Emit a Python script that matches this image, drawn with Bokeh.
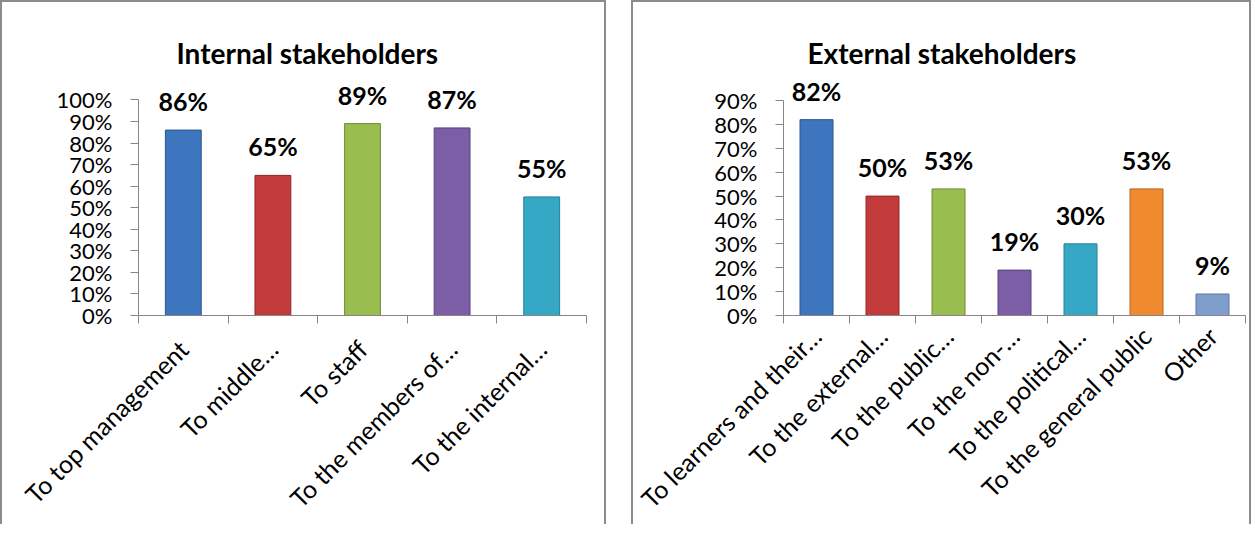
import math
from bokeh.plotting import figure
from bokeh.models import Range1d, FixedTicker, ColumnDataSource, LabelSet, PrintfTickFormatter
from bokeh.layouts import row
from bokeh.core.properties import value
from bokeh.embed import file_html
from bokeh.resources import INLINE

# ---------------- data ----------------
internal_title = "Internal stakeholders"
internal_categories = ["To top management", "To middle…", "To staff", "To the members of…", "To the internal…"]
internal_values = [86, 65, 89, 87, 55]
internal_yticks = [0, 10, 20, 30, 40, 50, 60, 70, 80, 90, 100]

external_title = "External stakeholders"
external_categories = ["To learners and their…", "To the external…", "To the public…", "To the non-…",
                       "To the political…", "To the general public", "Other"]
external_values = [82, 50, 53, 19, 30, 53, 9]
external_yticks = [0, 10, 20, 30, 40, 50, 60, 70, 80, 90]

# ---------------- styles ----------------
internal_fill = ["#3d75bf", "#c23a3a", "#99bd4f", "#7b5ea5", "#35a8c6"]
internal_line = ["#2b5690", "#8e2828", "#708c38", "#56417a", "#23809a"]
external_fill = ["#3d75bf", "#c23a3a", "#99bd4f", "#7b5ea5", "#35a8c6", "#f08a2e", "#809ecb"]
external_line = ["#2b5690", "#8e2828", "#708c38", "#56417a", "#23809a", "#b8631c", "#5a77a3"]

FONT = "Lato"
AXIS_COLOR = "#868686"
BORDER = "2px solid #8c8c8c"
CANVAS_H = 524


def make_panel(title, cats, vals, yticks, fills, lines, width, axis_top, range_top,
               b_left, b_right, b_bottom, title_offset, bar_w, cat_standoff):
    n = len(cats)
    xs = [i + 0.5 for i in range(n)]
    src = ColumnDataSource(dict(x=xs, top=vals, fill=fills, line=lines,
                                label=[f"{v}%" for v in vals]))
    p = figure(width=width, height=CANVAS_H, x_range=Range1d(0, n), y_range=Range1d(0, range_top),
               toolbar_location=None, output_backend="svg",
               min_border_left=b_left, min_border_right=b_right,
               min_border_top=67, min_border_bottom=b_bottom,
               title=title)
    p.styles = {"border-top": BORDER, "border-left": BORDER, "border-right": BORDER}
    p.outline_line_color = None
    p.xgrid.visible = False
    p.ygrid.visible = False

    p.title.text_font = FONT
    p.title.text_font_size = "28px"
    p.title.text_font_style = "bold"
    p.title.text_color = "black"
    p.title.align = "left"
    p.title.offset = title_offset
    p.title.standoff = 0

    p.vbar(x="x", top="top", bottom=0, width=bar_w, fill_color="fill",
           line_color="line", line_width=1, source=src)

    labels = LabelSet(x="x", y="top", text="label", source=src, y_offset=19,
                      text_align="center", text_baseline="alphabetic",
                      text_font=value(FONT), text_font_style="bold",
                      text_font_size="25px", text_color="black")
    p.add_layout(labels)

    xa = p.xaxis[0]
    xa.ticker = FixedTicker(ticks=xs, minor_ticks=list(range(n + 1)))
    xa.major_label_overrides = {x: c for x, c in zip(xs, cats)}
    xa.major_label_orientation = math.pi / 4
    xa.major_tick_out = 0
    xa.major_tick_in = 0
    xa.minor_tick_out = 8
    xa.minor_tick_in = 0
    xa.minor_tick_line_color = AXIS_COLOR
    xa.axis_line_color = AXIS_COLOR
    xa.major_label_text_font = FONT
    xa.major_label_text_font_size = "25px"
    xa.major_label_text_color = "black"
    xa.major_label_standoff = cat_standoff

    ya = p.yaxis[0]
    ya.ticker = FixedTicker(ticks=yticks)
    ya.bounds = (0, axis_top)
    ya.formatter = PrintfTickFormatter(format="%d%%")
    ya.major_tick_out = 8
    ya.major_tick_in = 0
    ya.minor_tick_line_color = None
    ya.major_tick_line_color = AXIS_COLOR
    ya.axis_line_color = AXIS_COLOR
    ya.major_label_text_font = FONT
    ya.major_label_text_font_size = "22px"
    ya.major_label_text_color = "black"
    ya.major_label_standoff = 18
    return p


p1 = make_panel(internal_title, internal_categories, internal_values, internal_yticks,
                internal_fill, internal_line, 606, 100, 114.1, 136, 22, 200, 38, 0.4, 21)
p2 = make_panel(external_title, external_categories, external_values, external_yticks,
                external_fill, external_line, 620, 90, 103.0, 150, 8, 205, 24, 0.5, 8)

layout = row(p1, p2, spacing=25)
open("out.html", "w").write(file_html(layout, INLINE))
